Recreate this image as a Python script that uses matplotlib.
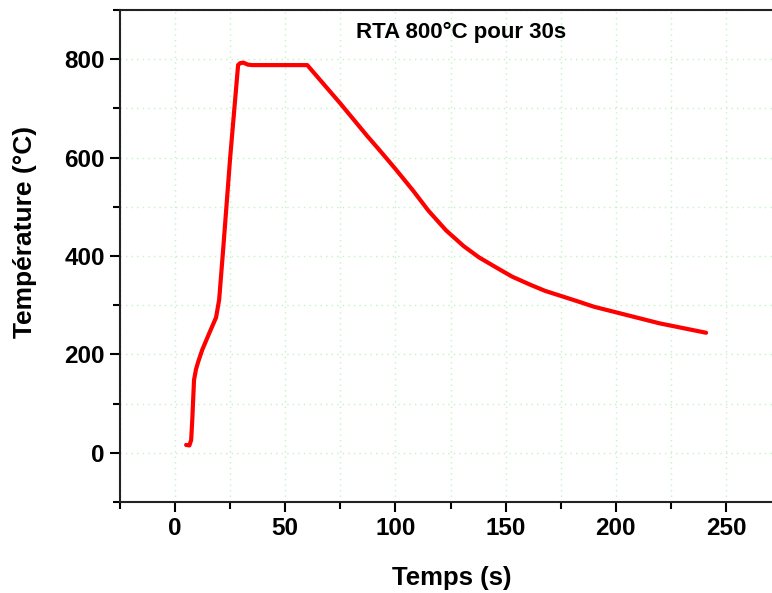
import matplotlib
matplotlib.use('Agg')
import matplotlib.pyplot as plt
from matplotlib.ticker import MultipleLocator

plt.rcParams['font.family'] = ['Liberation Sans', 'DejaVu Sans']
plt.rcParams['font.weight'] = 'bold'

# temps (s) et température (°C)
temps = [5, 6.5, 7.3, 7.8, 8.6, 9.5, 10.5, 12.3, 15.5, 18.6, 20.0, 21.8, 25.0, 28.6,
         29.5, 31, 33, 35, 45, 60, 75, 87, 93, 100, 108, 115, 123, 131, 138, 146,
         153, 161, 168, 175, 184, 190, 205, 220, 241]
temp = [16, 15, 26, 67, 148, 170, 185, 209, 243, 275, 311, 412, 600, 788,
        792, 793, 789, 788, 788, 788, 710, 645, 614, 577, 533, 492, 452, 420, 397, 376,
        358, 342, 329, 319, 306, 297, 280, 263, 244]

titre = 'RTA 800°C pour 30s'
xlabel = 'Temps (s)'
ylabel = 'Température (°C)'

fig = plt.figure(figsize=(7.72, 5.93), dpi=100)
ax = fig.add_axes([120/772, 91/593, 661/772, 492/593])

ax.plot(temps, temp, color='#ff0000', lw=3.0, solid_capstyle='round', solid_joinstyle='round', zorder=3)

ax.set_xlim(-25, 275)
ax.set_ylim(-100, 900)
ax.xaxis.set_major_locator(MultipleLocator(50))
ax.xaxis.set_minor_locator(MultipleLocator(25))
ax.yaxis.set_major_locator(MultipleLocator(200))
ax.yaxis.set_minor_locator(MultipleLocator(100))

ax.grid(True, which='both', color='#c4f2c4', linestyle=(0, (1, 3)), lw=1.0, zorder=0)

for s in ax.spines.values():
    s.set_linewidth(1.5)
    s.set_color('#222222')

ax.tick_params(which='major', direction='out', length=7, width=1.5, labelsize=17.5, pad=4)
ax.tick_params(which='minor', direction='out', length=5, width=1.5)
ax.tick_params(top=False, right=False, which='both')
for lab in ax.get_xticklabels() + ax.get_yticklabels():
    lab.set_fontweight('bold')

fig.text(461/772, 1 - 32/593, titre, ha='center', va='center',
         fontsize=16, fontweight='bold')
fig.text(452/772, 1 - 578/593, xlabel, ha='center', va='center', fontsize=18.5, fontweight='bold')
fig.text(25/772, 1 - 232/593, ylabel, ha='center', va='center', rotation=90,
         fontsize=19, fontweight='bold')

fig.savefig('out.png', dpi=100)
